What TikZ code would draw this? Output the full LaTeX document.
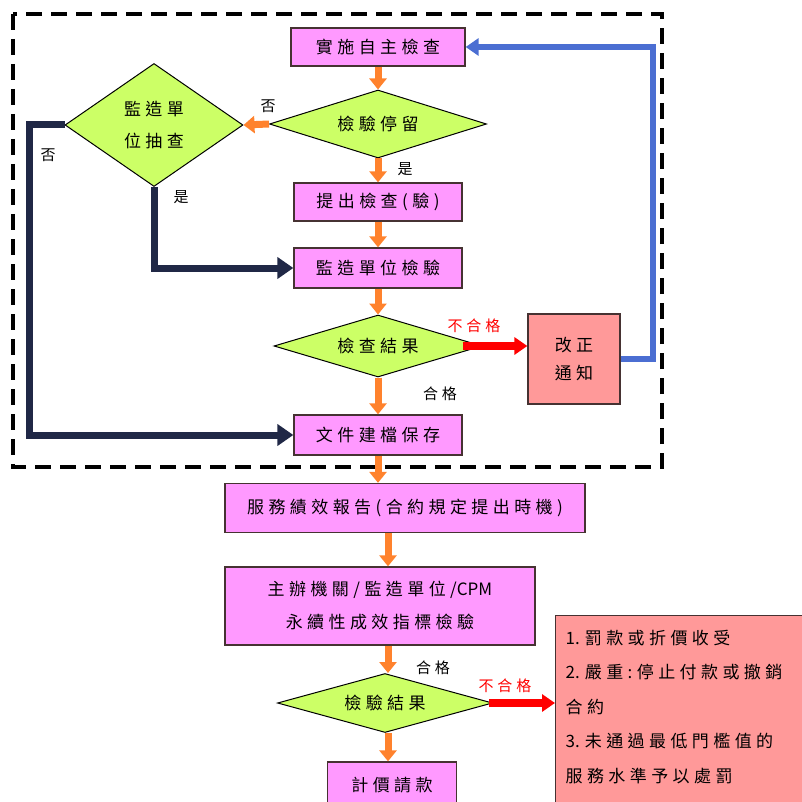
\documentclass[tikz,border=0pt]{standalone}
\usepackage{fontspec}
\setmainfont{Noto Sans CJK TC}[LetterSpace=26]
\newfontfamily\latinf{Noto Sans CJK TC}
\usetikzlibrary{shapes.geometric,arrows.meta}
\definecolor{boxpink}{RGB}{255,153,255}
\definecolor{dialime}{RGB}{204,255,102}
\definecolor{penred}{RGB}{255,153,153}
\definecolor{arrorange}{RGB}{255,130,45}
\definecolor{navyline}{RGB}{32,40,70}
\definecolor{blueline}{RGB}{75,110,210}
\definecolor{edgegray}{RGB}{70,50,50}
\tikzset{
  procbox/.style={draw=edgegray, line width=1.3pt, fill=boxpink, inner sep=0pt, font=\fontsize{17}{20}\selectfont, align=center},
  decide/.style={draw=black, line width=1pt, fill=dialime, diamond, inner sep=0pt, aspect=3.5, font=\fontsize{17}{20}\selectfont, align=center},
  redbox/.style={draw=edgegray, line width=1.3pt, fill=penred, font=\fontsize{17}{20}\selectfont, align=center},
  oarrow/.style={draw=arrorange, line width=7pt, -{Triangle[width=17pt,length=11pt]}},
  rarrow/.style={draw=red, line width=8pt, -{Triangle[width=17pt,length=13pt]}},
  narrow/.style={draw=navyline, line width=7pt, -{Triangle[width=21pt,length=16pt]}},
  barrow/.style={draw=blueline, line width=6pt, -{Triangle[width=17pt,length=13pt]}},
  lbl/.style={font=\fontsize{15}{16}\selectfont, inner sep=0pt},
  redlbl/.style={font=\fontsize{15}{16}\selectfont, inner sep=0pt, text=red},
}
\begin{document}
\begin{tikzpicture}[x=1pt,y=-1pt]
\useasboundingbox (0,0) rectangle (801,802);
% dashed frame
\draw[line width=4pt, dash pattern=on 16pt off 9pt] (13,14) rectangle (662,467);

% nodes
\node[procbox, minimum width=174pt, minimum height=38pt] (impl) at (378,47) {實施自主檢查};
\node[decide, minimum width=217pt, minimum height=68pt] (stay) at (378,124) {檢驗停留};
\node[decide, aspect=1, minimum width=178pt, minimum height=123pt, font=\fontsize{17}{32}\selectfont] (chk) at (154,125) {監造單\\位抽查};
\node[procbox, minimum width=168pt, minimum height=38pt] (sub) at (378,202) {提出檢查(驗)};
\node[procbox, minimum width=168pt, minimum height=40pt] (insp) at (378,268) {監造單位檢驗};
\node[decide, minimum width=208pt, minimum height=62pt] (res) at (378,346) {檢查結果};
\node[redbox, minimum width=92pt, minimum height=90pt, inner sep=0pt, font=\fontsize{17}{28}\selectfont] (fix) at (574,359) {改正\\通知};
\node[procbox, minimum width=168pt, minimum height=40pt] (file) at (378,435) {文件建檔保存};
\node[procbox, minimum width=360pt, minimum height=49pt] (svc) at (405,508) {服務績效報告(合約規定提出時機)};
\node[procbox, minimum width=310pt, minimum height=78pt, font=\fontsize{17}{33}\selectfont] (chief) at (380,606) {主辦機關/監造單位/{\latinf CPM}\\永續性成效指標檢驗};
\node[decide, minimum width=215pt, minimum height=59pt] (res2) at (385,703) {檢驗結果};
\node[procbox, minimum width=129pt, minimum height=46pt] (pay) at (392,785) {計價請款};
\node[redbox, anchor=north west, inner xsep=10pt, inner ysep=14pt, font=\fontsize{17}{34.5}\selectfont] (pen) at (555,615)
  {\begin{minipage}[t][215pt][t]{270pt}\raggedright
   {\latinf 1. }罰款或折價收受\\
   {\latinf 2. }嚴重:停止付款或撤銷\\
   合約\\
   {\latinf 3. }未通過最低門檻值的\\
   服務水準予以處罰
   \end{minipage}};

\coordinate (lcol) at (388,0);

% orange flow arrows
\draw[oarrow] (impl.south) -- (stay.north);
\draw[oarrow] (stay.south) -- (sub.north);
\draw[oarrow] (sub.south) -- (insp.north);
\draw[oarrow] (insp.south) -- (res.north);
\draw[oarrow] (res.south) -- (file.north);
\draw[oarrow] (file.south) -- (file.south |- svc.north);
\draw[oarrow] (svc.south -| lcol) -- (chief.north -| lcol);
\draw[oarrow] (chief.south -| lcol) -- (res2.north -| lcol);
\draw[oarrow] (res2.south -| lcol) -- (pay.north -| lcol);
\draw[oarrow] (stay.west) -- (chk.east);

% red fail arrows
\draw[rarrow] ([xshift=-20pt]res.east) -- (res.east -| fix.west);
\draw[rarrow] ([xshift=-4pt]res2.east) -- (res2.east -| pen.west);

% navy arrows
\draw[narrow] (chk.west) -- ++(-35,0) |- (file.west);
\draw[narrow] (chk.south) |- (insp.west);

% blue feedback
\draw[barrow] (fix.east) -- ++(32,0) |- (impl.east);

% labels
\node[lbl] (l1) at (268,106) {否};
\node[lbl] (l2) at (48,155) {否};
\node[lbl] (l3) at (181,197) {是};
\node[lbl] (l4) at (405,169) {是};
\node[redlbl] (l5) at (474,326) {不合格};
\node[lbl] (l6) at (440,394) {合格};
\node[lbl] (l7) at (433,668) {合格};
\node[redlbl] (l8) at (505,686) {不合格};
\end{tikzpicture}
\end{document}
